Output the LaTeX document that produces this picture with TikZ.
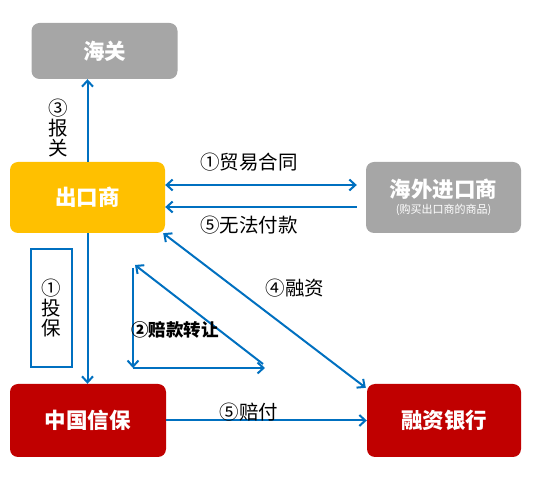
\documentclass[tikz,border=0pt]{standalone}
\usepackage{fontspec}
\setmainfont{Noto Sans CJK SC}
\usetikzlibrary{arrows.meta}
\definecolor{arrblue}{HTML}{0070C0}
\definecolor{boxgray}{HTML}{A6A6A6}
\definecolor{boxgold}{HTML}{FFC000}
\definecolor{boxred}{HTML}{C00000}
\tikzset{
  box/.style={rounded corners=8pt, inner sep=0pt, text=white, font=\fontsize{21.5}{23}\selectfont\bfseries},
  arr/.style={draw=arrblue, line width=2pt, -{Straight Barb[length=6pt,width=11pt,line width=2pt]}},
  dbl/.style={draw=arrblue, line width=2pt, {Straight Barb[length=6pt,width=11pt,line width=2pt]}-{Straight Barb[length=6pt,width=11pt,line width=2pt]}},
  lbl/.style={inner sep=0pt, text=black, font=\fontsize{19.5}{20}\selectfont},
}
\begin{document}
\begin{tikzpicture}[x=1pt,y=-1pt]
\useasboundingbox (0,0) rectangle (542,478);
% boxes
\node[box, fill=boxgray, minimum width=146pt, minimum height=56pt] (hg) at (104.5,51) {海关};
\node[box, fill=boxgold, minimum width=155pt, minimum height=71pt] (ck) at (87.5,197.5) {出口商};
\node[box, fill=boxgray, minimum width=155pt, minimum height=71pt, align=center] (hw) at (443.5,197.5)
  {海外进口商\\[-7pt]{\fontsize{11}{12}\selectfont\mdseries (购买出口商的商品)}};
\node[box, fill=boxred, minimum width=156pt, minimum height=73pt] (zb) at (88,420.5) {中国信保};
\node[box, fill=boxred, minimum width=154pt, minimum height=73pt] (rz) at (444,420.5) {融资银行};
% arrows
\draw[arr] (ck.north) -- (ck.north |- hg.south);
\draw[arr] (ck.south) -- (ck.south |- zb.north);
\draw[dbl] ([yshift=12.5pt]ck.east) -- ([xshift=-9pt,yshift=12.5pt]hw.west);
\draw[arr] ([xshift=-9pt,yshift=-9.5pt]hw.west) -- ([yshift=-9.5pt]ck.east);
\draw[dbl] ([xshift=-2pt]ck.south east) -- ([xshift=-1pt,yshift=-4pt]rz.north west);
\draw[arr] (zb.east) -- (rz.west);
% triangle
\coordinate (ta) at (133,268);
\coordinate (tb) at (133,368);
\coordinate (tc) at (265,368);
\coordinate (td) at (263,364);
\coordinate (te) at (135,265);
\draw[arr] (ta) -- (tb);
\draw[arr] (tb) -- (tc);
\draw[arr] (td) -- (te);
% labels
\node[lbl] (l1) at (249,162) {①贸易合同};
\node[lbl] (l2) at (249,225) {⑤无法付款};
\node[lbl] (l3) at (295,288) {④融资};
\node[lbl, font=\fontsize{17.5}{18}\selectfont\bfseries, anchor=west] (l4) at (131,330) {②赔款转让};
\node[lbl] (l5) at (249,412) {⑤赔付};
\node[lbl, align=center] (l6) at (58,128) {③\\报\\关};
\node[lbl, align=center, draw=arrblue, line width=2pt, minimum width=41pt, minimum height=118pt] (l7) at (51.5,308) {①\\投\\保};
\end{tikzpicture}
\end{document}
